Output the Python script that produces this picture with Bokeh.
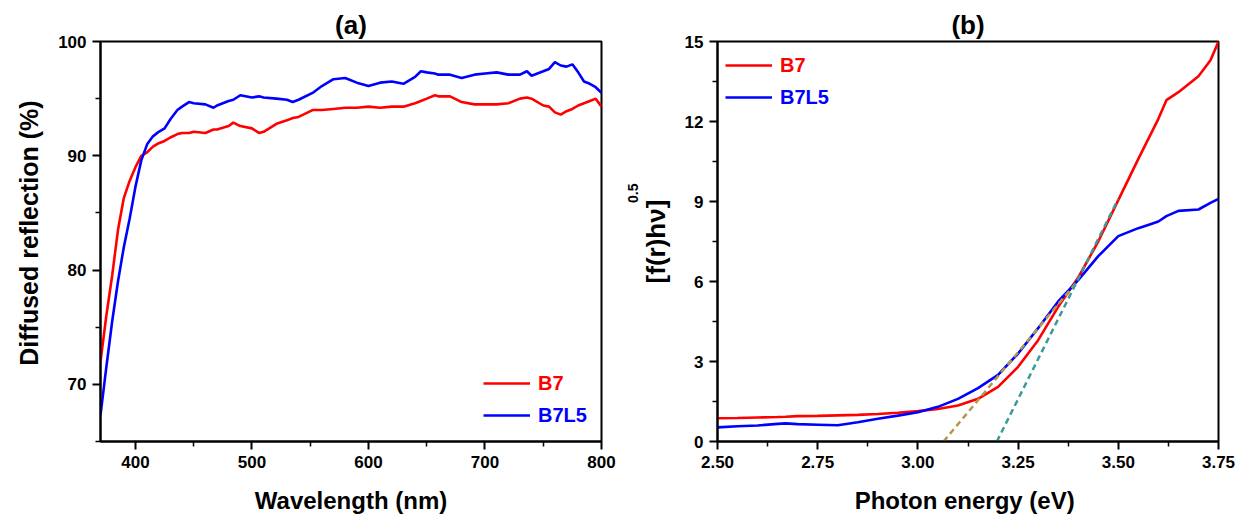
from bokeh.plotting import figure
from bokeh.layouts import row
from bokeh.models import (Legend, LegendItem, FixedTicker, Title,
                          PrintfTickFormatter)
from bokeh.embed import file_html
from bokeh.resources import INLINE

# ---------------- data: panel (a) ----------------
wavelength = [370, 375, 380, 385, 390, 395, 400, 405, 410, 415, 420, 425, 430, 436,
              440, 446, 450, 460, 467, 470, 480, 484, 490, 500, 506, 510, 521, 530,
              535, 540, 552, 560, 570, 580, 590, 600, 610, 620, 630, 640, 645, 650,
              657, 660, 670, 680, 691, 700, 710, 720, 730, 736, 740, 750, 755, 760,
              765, 770, 775, 780, 785, 790, 795, 800]
refl_b7 = [72.0, 76.0, 79.5, 83.5, 86.3, 87.8, 89.0, 90.0, 90.3, 90.8, 91.1, 91.3, 91.6, 91.9,
           92.0, 92.0, 92.1, 92.0, 92.3, 92.3, 92.6, 92.9, 92.6, 92.4, 92.0, 92.1, 92.8, 93.1,
           93.3, 93.4, 94.0, 94.0, 94.1, 94.2, 94.2, 94.3, 94.2, 94.3, 94.3, 94.6, 94.8, 95.0,
           95.3, 95.2, 95.2, 94.7, 94.5, 94.5, 94.5, 94.6, 95.0, 95.1, 95.0, 94.4, 94.3, 93.8,
           93.6, 93.9, 94.1, 94.4, 94.6, 94.8, 95.0, 94.3]
refl_b7l5 = [67.3, 71.5, 75.5, 79.0, 82.0, 84.5, 87.3, 89.6, 91.0, 91.7, 92.1, 92.4, 93.2, 94.0,
             94.3, 94.7, 94.6, 94.5, 94.2, 94.4, 94.8, 94.9, 95.3, 95.1, 95.2, 95.1, 95.0, 94.9,
             94.7, 94.9, 95.5, 96.1, 96.7, 96.8, 96.4, 96.1, 96.4, 96.5, 96.3, 96.9, 97.4, 97.3,
             97.2, 97.1, 97.1, 96.8, 97.1, 97.2, 97.3, 97.1, 97.1, 97.4, 97.0, 97.4, 97.6, 98.2,
             97.9, 97.8, 98.0, 97.3, 96.5, 96.3, 96.0, 95.5]
a_xticks = [400, 500, 600, 700, 800]
a_xminor = [450, 550, 650, 750]
a_yticks = [70, 80, 90, 100]
a_yminor = [65, 75, 85, 95]

# ---------------- data: panel (b) ----------------
energy = [2.50, 2.55, 2.60, 2.65, 2.67, 2.70, 2.75, 2.80, 2.85, 2.90, 2.95, 3.00, 3.05, 3.10,
          3.15, 3.20, 3.25, 3.30, 3.35, 3.40, 3.45, 3.50, 3.55, 3.58, 3.60, 3.62, 3.65, 3.70,
          3.73, 3.75]
tauc_b7 = [0.87, 0.88, 0.90, 0.92, 0.93, 0.95, 0.96, 0.98, 1.00, 1.03, 1.08, 1.14, 1.22, 1.35,
           1.60, 2.05, 2.80, 3.80, 5.05, 6.15, 7.50, 9.05, 10.6, 11.5, 12.1, 12.8, 13.1, 13.7,
           14.3, 15.0]
tauc_b7l5 = [0.53, 0.57, 0.60, 0.66, 0.68, 0.65, 0.63, 0.61, 0.72, 0.85, 0.97, 1.10, 1.30, 1.60,
             2.00, 2.50, 3.30, 4.25, 5.25, 6.05, 6.95, 7.70, 8.00, 8.15, 8.25, 8.45, 8.65, 8.70,
             8.95, 9.10]
fit_b7_x = [3.197, 3.50]
fit_b7_y = [0.0, 9.1]
fit_b7l5_x = [3.064, 3.40]
fit_b7l5_y = [0.0, 6.05]
b_xticks = [2.50, 2.75, 3.00, 3.25, 3.50, 3.75]
b_xminor = [2.625, 2.875, 3.125, 3.375, 3.625]
b_yticks = [0, 3, 6, 9, 12, 15]
b_yminor = [1.5, 4.5, 7.5, 10.5, 13.5]

FONT = "Liberation Sans"
RED = "#FF0000"
BLUE = "#0000FF"


def style(p, title_text):
    p.title.text = title_text
    p.title.align = "center"
    p.title.vertical_align = "top"
    p.title.text_font = FONT
    p.title.text_font_style = "bold"
    p.title.text_font_size = "26px"
    p.title.text_color = "black"
    p.title.standoff = 0
    p.xgrid.visible = False
    p.ygrid.visible = False
    p.outline_line_color = "black"
    p.outline_line_width = 2
    p.outline_line_alpha = 1
    for ax in (p.xaxis[0], p.yaxis[0]):
        ax.axis_line_width = 2
        ax.axis_line_color = "black"
        ax.major_tick_line_width = 2
        ax.minor_tick_line_width = 1.5
        ax.major_tick_out = 8
        ax.major_tick_in = 0
        ax.minor_tick_out = 5
        ax.minor_tick_in = 0
        ax.major_label_text_font = FONT
        ax.major_label_text_font_style = "bold"
        ax.major_label_text_font_size = "17px"
        ax.major_label_text_color = "black"
        ax.axis_label_text_font = FONT
        ax.axis_label_text_font_style = "bold"
        ax.axis_label_text_font_size = "24px"
        ax.axis_label_text_color = "black"
    p.xaxis[0].major_label_standoff = 6
    p.yaxis[0].major_label_standoff = 6
    p.xaxis[0].axis_label_standoff = 16


def legend(p, label, renderer, color, loc):
    lg = Legend(items=[LegendItem(label=label, renderers=[renderer])],
                location=loc, border_line_color=None, background_fill_alpha=0,
                padding=0, margin=0, glyph_width=47, glyph_height=24,
                label_height=24, label_standoff=8, label_text_font=FONT,
                label_text_font_style="bold", label_text_font_size="20px",
                label_text_color=color)
    p.add_layout(lg)


# ---------------- panel (a) ----------------
p1 = figure(width=620, height=516, x_range=(370, 800), y_range=(65, 100),
            output_backend="svg", toolbar_location=None,
            min_border_left=100, min_border_right=19, min_border_top=38,
            min_border_bottom=74)
style(p1, "(a)")
p1.xaxis[0].ticker = FixedTicker(ticks=a_xticks, minor_ticks=a_xminor)
p1.yaxis[0].ticker = FixedTicker(ticks=a_yticks, minor_ticks=a_yminor)
p1.xaxis[0].axis_label = "Wavelength (nm)"
ra = p1.line(wavelength, refl_b7, line_color=RED, line_width=2.6)
ba = p1.line(wavelength, refl_b7l5, line_color=BLUE, line_width=2.6)
legend(p1, "B7", ra, RED, (383, 46))
legend(p1, "B7L5", ba, BLUE, (383, 14))
p1.add_layout(Title(text="Diffused  reflection (%)", align="right", offset=52,
                    standoff=25, text_font=FONT, text_font_style="bold",
                    text_font_size="25px", text_color="black"), "left")

# ---------------- panel (b) ----------------
p2 = figure(width=620, height=516, x_range=(2.5, 3.75), y_range=(0, 15),
            output_backend="svg", toolbar_location=None,
            min_border_left=97, min_border_right=22, min_border_top=41,
            min_border_bottom=72)
style(p2, "(b)")
p2.xaxis[0].ticker = FixedTicker(ticks=b_xticks, minor_ticks=b_xminor)
p2.yaxis[0].ticker = FixedTicker(ticks=b_yticks, minor_ticks=b_yminor)
p2.xaxis[0].formatter = PrintfTickFormatter(format="%.2f")
p2.xaxis[0].axis_label = "Photon energy  (eV)"
p2.yaxis[0].axis_label = "[f(r)hν]"
p2.yaxis[0].axis_label_text_font_size = "26px"
p2.yaxis[0].axis_label_standoff = 11
rb = p2.line(energy, tauc_b7, line_color=RED, line_width=2.6)
bb = p2.line(energy, tauc_b7l5, line_color=BLUE, line_width=2.6)
p2.line(fit_b7l5_x, fit_b7l5_y, line_color="#B5994A", line_width=2.5, line_dash="6 4")
p2.line(fit_b7_x, fit_b7_y, line_color="#3A9A98", line_width=2.5, line_dash="6 4")
legend(p2, "B7", rb, RED, (8, 364))
legend(p2, "B7L5", bb, BLUE, (8, 332))
p2.add_layout(Title(text="0.5", align="right", offset=142, standoff=0,
                    text_font=FONT, text_font_style="bold", text_font_size="14px",
                    text_color="black"), "left")

layout = row(p1, p2)
open("out.html", "w").write(file_html(layout, INLINE))
